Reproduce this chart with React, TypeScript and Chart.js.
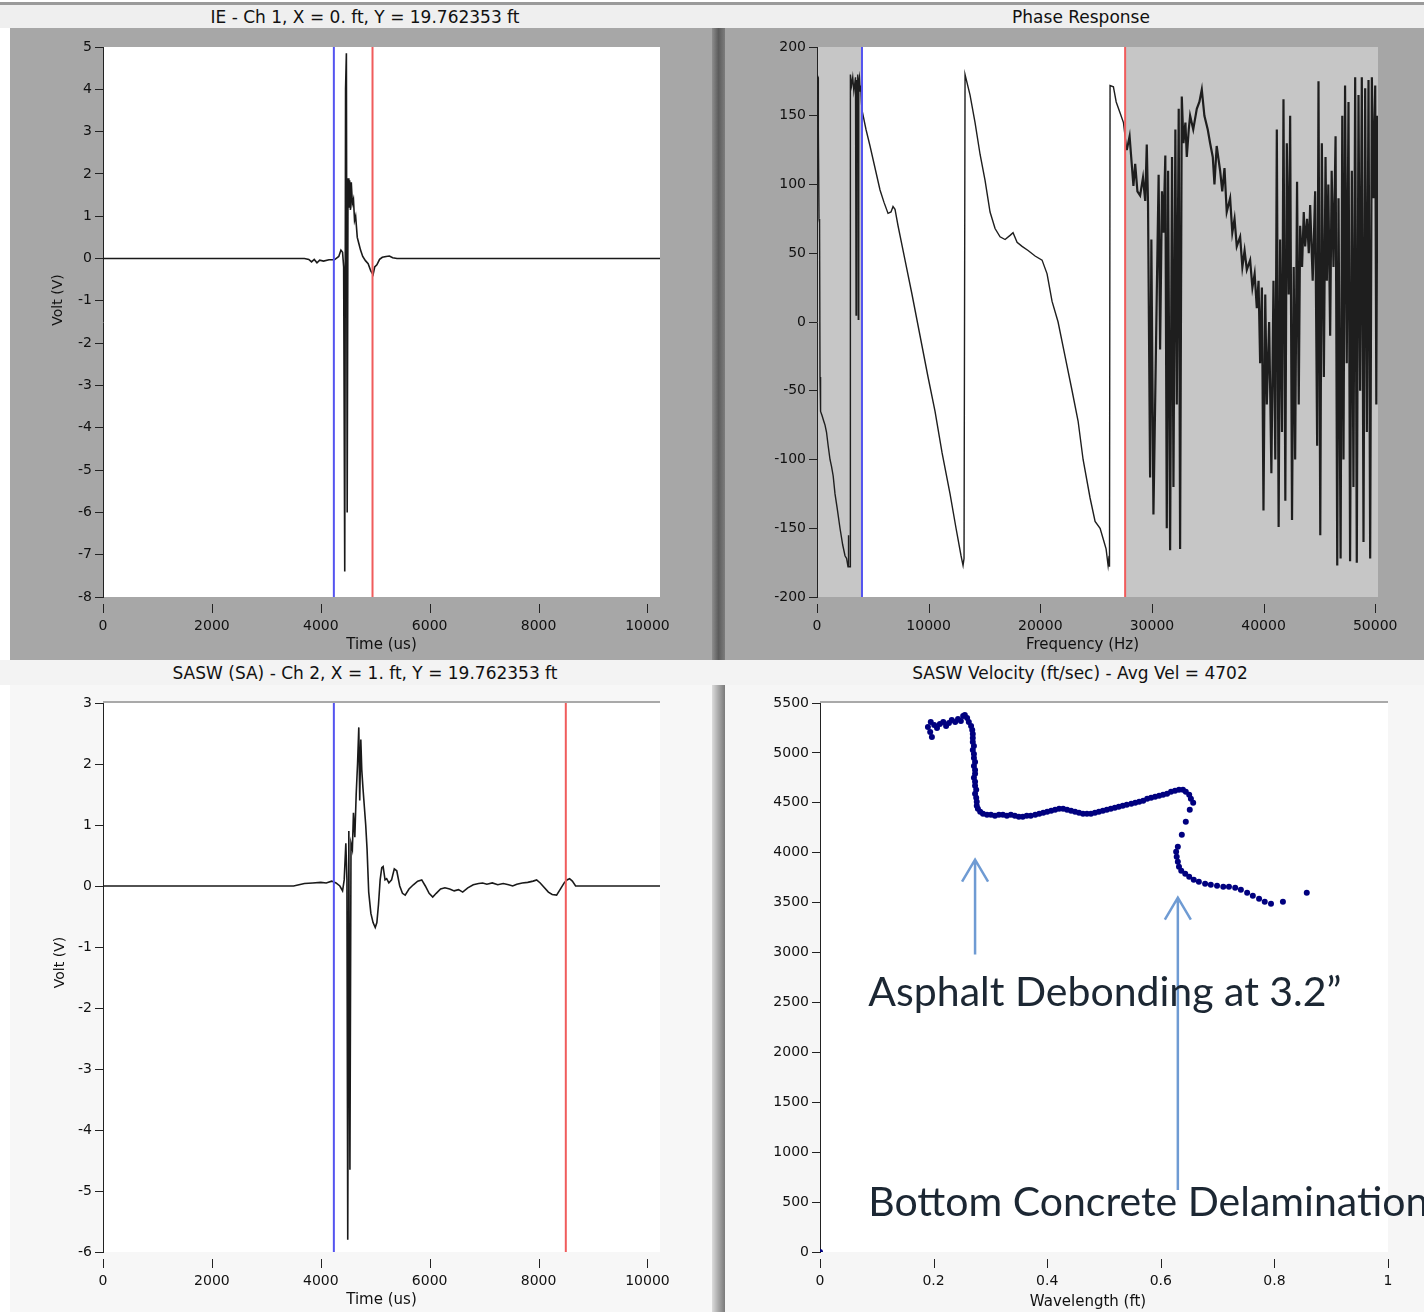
import React, { useEffect, useRef } from 'react';
import { Chart, registerables } from 'chart.js';

Chart.register(...registerables);

// ---------------- DATA ----------------
// IE - Ch 1 waveform: [time (us), volt]
const ieWave: [number, number][] = [
  [0, 0], [3700, 0], [3780, -0.02], [3830, -0.08], [3880, -0.02], [3930, -0.1], [3980, -0.04],
  [4050, -0.06], [4150, -0.03], [4250, -0.03], [4330, 0.05], [4370, 0.2], [4400, 0.15], [4420, -0.2],
  [4440, -7.4], [4455, 4.0], [4470, 4.85], [4485, -6.0], [4500, 1.9], [4515, 1.2], [4530, 1.85],
  [4545, 1.15], [4560, 1.8], [4580, 1.3], [4600, 1.4], [4620, 0.9], [4640, 1.0], [4670, 0.5],
  [4700, 0.35], [4730, 0.2], [4770, 0.05], [4820, -0.05], [4870, -0.12], [4920, -0.3], [4960, -0.38],
  [4990, -0.2], [5030, -0.15], [5080, -0.02], [5130, 0.03], [5200, 0.05], [5260, 0.06], [5320, 0.02],
  [5400, 0], [10230, 0],
];
const ieCursors = [4240, 4950];
const ieYTicks = [5, 4, 3, 2, 1, 0, -1, -2, -3, -4, -5, -6, -7, -8];
const timeTicks = [0, 2000, 4000, 6000, 8000, 10000];

// Phase response: [frequency (Hz), phase (deg)]
const phaseResponse: [number, number][] = [
  [0, 180], [90, 178], [120, 140], [180, 75], [230, 72], [270, -40], [320, -65], [450, -68], [600, -72],
  [720, -75], [850, -80], [1000, -90], [1165, -100], [1300, -105], [1450, -112], [1613, -125], [1800, -135],
  [2061, -150], [2300, -162], [2509, -170], [2650, -172], [2778, -178], [2800, -155], [2850, -178],
  [2957, -178], [2990, 180], [3100, 172], [3200, 178], [3300, 168], [3450, 178], [3500, 5], [3540, 176],
  [3600, 170], [3650, 180], [3700, 2], [3740, 175], [3800, 178], [3860, 168], [3920, 172], [3980, 160],
  [4032, 154], [4390, 140], [4749, 128], [5197, 112], [5645, 96], [6003, 87], [6362, 79], [6630, 80],
  [6810, 84], [6989, 82], [7258, 70], [7885, 45], [8512, 20], [9229, -10], [9946, -40], [10573, -65],
  [11200, -95], [11917, -125], [12454, -150], [12902, -170], [13082, -177], [13170, -172],
  [13261, 180], [13709, 165], [14157, 145], [14605, 122], [15053, 103], [15501, 80], [15949, 68],
  [16397, 62], [16845, 60], [17293, 63], [17562, 65], [17920, 58], [18368, 55], [18906, 52], [19533, 48],
  [20160, 45], [20608, 35], [21056, 15], [21594, 0], [22221, -25], [22848, -50], [23386, -72], [23834, -100],
  [24461, -128], [24909, -145], [25357, -150], [25715, -160], [25894, -165], [26074, -177], [26163, -170],
  [26200, -178], [26250, 172], [26550, 171], [26800, 160], [27149, 152], [27450, 145], [27746, 125],
  [28000, 135], [28343, 99], [28500, 115], [28700, 95], [28941, 92], [29200, 105], [29400, 88], [29538, 129],
  [29650, 86], [29837, -113], [29950, 60], [30136, -140], [30250, -80], [30434, 20], [30600, 107],
  [30733, -20], [30900, 95], [31032, 65], [31200, 121], [31331, -150], [31450, 110], [31629, -166],
  [31800, 120], [31928, -120], [32100, 140], [32227, -60], [32400, 155], [32525, -165], [32674, 164],
  [32824, 130], [33000, 145], [33123, 120], [33300, 140], [33421, 150], [33700, 140], [34019, 155],
  [34250, 160], [34467, 169], [34700, 150], [35000, 140], [35213, 130], [35450, 120], [35600, 100],
  [35800, 128], [36109, 110], [36300, 95], [36500, 112], [36700, 80], [37005, 90], [37200, 65], [37400, 75],
  [37600, 55], [37901, 62], [38100, 40], [38300, 52], [38500, 38], [38797, 45], [39000, 25], [39200, 35],
  [39395, 10], [39550, 30], [39693, -30], [39850, 25], [39992, -137], [40150, 20], [40291, -60], [40500, 0],
  [40700, -110], [40888, 30], [41050, -100], [41187, 140], [41350, -149], [41485, 60], [41650, -80],
  [41784, 162], [41950, -130], [42083, 130], [42250, 20], [42381, 150], [42550, -144], [42700, 40],
  [42829, -100], [43000, 102], [43150, -60], [43277, 70], [43450, 40], [43600, 80], [43725, 55], [43900, 75],
  [44050, 50], [44173, 85], [44400, 30], [44621, 95], [44800, -90], [44920, 175], [45080, -155],
  [45219, 130], [45400, -40], [45550, 120], [45667, 30], [45800, 100], [45965, -10], [46100, 110],
  [46264, 40], [46450, 135], [46600, -177], [46712, 90], [46900, -172], [47050, 150], [47160, -100],
  [47300, 172], [47450, -30], [47608, 160], [47750, -174], [47907, 110], [48050, -120], [48205, 178],
  [48350, -175], [48504, 165], [48650, -50], [48800, 178], [48952, -160], [49100, 170], [49251, -80],
  [49400, 176], [49549, -172], [49700, 178], [49848, 90], [50000, 172], [50100, -60], [50200, 150],
];
const phaseCursors = [4030, 27600];
const phaseYTicks = [200, 150, 100, 50, 0, -50, -100, -150, -200];
const freqTicks = [0, 10000, 20000, 30000, 40000, 50000];

// SASW (SA) - Ch 2 waveform: [time (us), volt]
const saswWave: [number, number][] = [
  [0, 0], [3500, 0], [3600, 0.02], [3700, 0.04], [3850, 0.05], [4000, 0.06], [4100, 0.05], [4200, 0.08],
  [4280, 0.05], [4350, 0], [4400, -0.08], [4430, 0.1], [4460, 0.7], [4480, 0.1], [4495, -5.8], [4515, 0.9],
  [4535, -4.65], [4555, 0.7], [4580, 0.6], [4600, 1.2], [4625, 0.8], [4650, 1.5], [4675, 2.0], [4698, 2.6],
  [4715, 1.4], [4735, 2.4], [4753, 1.9], [4775, 1.6], [4800, 1.3], [4825, 1.0], [4850, 0.6], [4880, -0.1],
  [4920, -0.45], [4960, -0.6], [5000, -0.68], [5030, -0.6], [5060, -0.3], [5090, 0.1], [5120, 0.3],
  [5145, 0.32], [5180, 0.1], [5210, 0.12], [5250, 0.05], [5300, 0.1], [5350, 0.28], [5395, 0.25],
  [5450, 0], [5500, -0.12], [5550, -0.15], [5620, -0.05], [5700, 0.02], [5780, 0.08], [5854, 0.1],
  [5920, 0], [5990, -0.12], [6056, -0.18], [6120, -0.12], [6200, -0.05], [6280, -0.03], [6367, -0.05],
  [6450, -0.08], [6530, -0.06], [6606, -0.1], [6700, -0.03], [6800, 0.02], [6900, 0.04], [6973, 0.05],
  [7050, 0.03], [7150, 0.05], [7250, 0.02], [7350, 0.04], [7450, 0.02], [7524, 0], [7600, 0.03],
  [7700, 0.05], [7800, 0.06], [7900, 0.08], [7964, 0.1], [8030, 0.05], [8100, -0.02], [8180, -0.1],
  [8250, -0.14], [8331, -0.15], [8400, -0.05], [8470, 0.05], [8520, 0.1], [8569, 0.12], [8620, 0.08],
  [8680, 0], [8753, 0], [10230, 0],
];
const saswCursors = [4240, 8500];
const saswYTicks = [3, 2, 1, 0, -1, -2, -3, -4, -5, -6];

// SASW velocity: [wavelength (ft), velocity (ft/sec)]
const velocityPoints: [number, number][] = [
  [0, 0],
  [0.190, 5260], [0.194, 5210], [0.197, 5160], [0.195, 5310], [0.201, 5280], [0.206, 5250], [0.211, 5290],
  [0.217, 5310], [0.222, 5270], [0.227, 5300], [0.232, 5330], [0.238, 5310], [0.243, 5340], [0.248, 5320],
  [0.252, 5370], [0.255, 5380], [0.259, 5350], [0.262, 5310], [0.266, 5270], [0.268, 5230], [0.269, 5190],
  [0.269, 5150], [0.269, 5110], [0.271, 5070], [0.269, 5030], [0.271, 4990], [0.271, 4950], [0.273, 4910],
  [0.271, 4870], [0.273, 4830], [0.273, 4790], [0.271, 4750], [0.273, 4710], [0.273, 4670], [0.275, 4630],
  [0.273, 4590], [0.275, 4550], [0.276, 4510], [0.276, 4470], [0.278, 4440],
  [0.282, 4410], [0.287, 4390], [0.294, 4380], [0.301, 4380], [0.308, 4370], [0.315, 4380], [0.322, 4380],
  [0.329, 4370], [0.336, 4380], [0.343, 4370], [0.350, 4360], [0.357, 4360], [0.364, 4370], [0.371, 4370],
  [0.379, 4380], [0.386, 4390], [0.393, 4400], [0.400, 4410], [0.407, 4420], [0.414, 4430], [0.421, 4440],
  [0.428, 4440], [0.435, 4430], [0.442, 4420], [0.449, 4410], [0.456, 4400], [0.463, 4390], [0.470, 4390],
  [0.477, 4390], [0.484, 4400], [0.491, 4410], [0.498, 4420], [0.505, 4430], [0.512, 4440], [0.519, 4450],
  [0.526, 4460], [0.533, 4470], [0.540, 4480], [0.548, 4490], [0.555, 4500], [0.562, 4510], [0.569, 4520],
  [0.576, 4540], [0.583, 4550], [0.590, 4560], [0.597, 4570], [0.604, 4580], [0.611, 4590], [0.618, 4610],
  [0.625, 4620], [0.632, 4630], [0.639, 4630], [0.644, 4610], [0.650, 4580], [0.653, 4540], [0.657, 4500],
  [0.651, 4430], [0.644, 4310], [0.637, 4180], [0.630, 4060], [0.627, 4010], [0.628, 3960], [0.630, 3910],
  [0.632, 3860], [0.636, 3820], [0.643, 3790], [0.650, 3760], [0.658, 3730], [0.667, 3710], [0.678, 3690],
  [0.688, 3680], [0.699, 3670], [0.710, 3660], [0.720, 3660], [0.731, 3650], [0.741, 3630], [0.752, 3600],
  [0.762, 3570], [0.773, 3540], [0.783, 3510], [0.794, 3490], [0.815, 3510], [0.857, 3600],
];
const velYTicks = [5500, 5000, 4500, 4000, 3500, 3000, 2500, 2000, 1500, 1000, 500, 0];
const wavelengthTicks = [0, 0.2, 0.4, 0.6, 0.8, 1];

// Annotations on the velocity plot (in data units)
const noteTexts = ['Asphalt Debonding at 3.2\u201D', 'Bottom Concrete Delamination'];
const notePositions: [number, number][] = [[0.085, 2465], [0.085, 361]];
const arrowPositions: [number, number, number][] = [[0.273, 2980, 3930], [0.630, 620, 3550]];

const panelTitles = [
  'IE - Ch 1, X = 0. ft, Y = 19.762353 ft',
  'Phase Response',
  'SASW (SA) - Ch 2, X = 1. ft, Y = 19.762353 ft',
  'SASW Velocity (ft/sec) - Avg Vel = 4702',
];

// ---------------- STYLE / HELPERS ----------------
const FONT = '"DejaVu Sans", Verdana, sans-serif';
const BLUE = 'rgb(84,84,240)';
const RED = 'rgb(240,92,92)';

type Decor = {
  plotBg: string;
  shade?: number[];
  frameTop?: string;
  xTitle: string;
  xTitleDx: number;
  xTitleDy: number;
  yTitle?: string;
  yTitleX?: number;
  yTitleDy?: number;
  annotate?: boolean;
};

function makeDecor(d: Decor) {
  return {
    id: 'decor',
    beforeDraw(chart: any) {
      const { ctx, chartArea: a, scales } = chart;
      ctx.save();
      ctx.fillStyle = d.plotBg;
      ctx.fillRect(a.left, a.top, a.right - a.left, a.bottom - a.top);
      if (d.shade) {
        const x1 = scales.x.getPixelForValue(d.shade[0]);
        const x2 = scales.x.getPixelForValue(d.shade[1]);
        ctx.fillStyle = '#ffffff';
        ctx.fillRect(x1, a.top, x2 - x1, a.bottom - a.top);
      }
      if (d.frameTop) {
        ctx.fillStyle = d.frameTop;
        ctx.fillRect(a.left, a.top - 2, a.right - a.left, 2);
      }
      ctx.restore();
    },
    afterDraw(chart: any) {
      const { ctx, chartArea: a, scales } = chart;
      ctx.save();
      ctx.strokeStyle = '#222';
      ctx.lineWidth = 1;
      for (const t of scales.x.ticks) {
        const px = Math.round(scales.x.getPixelForValue(t.value)) + 0.5;
        ctx.beginPath();
        ctx.moveTo(px, a.bottom + 7);
        ctx.lineTo(px, a.bottom + 16);
        ctx.stroke();
      }
      ctx.fillStyle = '#111';
      ctx.font = `15px ${FONT}`;
      ctx.textAlign = 'center';
      ctx.textBaseline = 'middle';
      ctx.fillText(d.xTitle, (a.left + a.right) / 2 + d.xTitleDx, a.bottom + d.xTitleDy);
      if (d.yTitle) {
        ctx.save();
        ctx.font = `14px ${FONT}`;
        ctx.translate(d.yTitleX ?? 0, (a.top + a.bottom) / 2 + (d.yTitleDy ?? 0));
        ctx.rotate(-Math.PI / 2);
        ctx.fillText(d.yTitle, 0, 0);
        ctx.restore();
      }
      if (d.annotate) {
        const sx = scales.x;
        const sy = scales.y;
        ctx.strokeStyle = '#6f9bd3';
        ctx.lineWidth = 2.5;
        for (const [wl, v0, v1] of arrowPositions) {
          const x = sx.getPixelForValue(wl);
          const y0 = sy.getPixelForValue(v0);
          const y1 = sy.getPixelForValue(v1);
          ctx.beginPath();
          ctx.moveTo(x, y0);
          ctx.lineTo(x, y1);
          ctx.moveTo(x - 13, y1 + 22);
          ctx.lineTo(x, y1);
          ctx.lineTo(x + 13, y1 + 22);
          ctx.stroke();
        }
        ctx.fillStyle = '#1c2733';
        ctx.font = `41px Lato, "Open Sans", sans-serif`;
        ctx.textAlign = 'left';
        ctx.textBaseline = 'alphabetic';
        noteTexts.forEach((txt, i) => {
          const [wl, v] = notePositions[i];
          ctx.fillText(txt, sx.getPixelForValue(wl), sy.getPixelForValue(v));
        });
      }
      ctx.restore();
    },
  };
}

type BuildOpts = {
  datasets: any[];
  xMin: number; xMax: number; yMin: number; yMax: number;
  xTicks: number[]; yTicks: number[];
  padTop: number; padRight: number; yWidth: number; xHeight: number;
  decor: Decor;
};

function buildConfig(o: BuildOpts): any {
  const tickFont = { family: FONT, size: 14 };
  return {
    type: 'scatter',
    data: { datasets: o.datasets },
    options: {
      animation: false,
      responsive: false,
      devicePixelRatio: 1,
      events: [],
      layout: { padding: { top: o.padTop, right: o.padRight, left: 0, bottom: 0 } },
      plugins: { legend: { display: false }, tooltip: { enabled: false }, title: { display: false } },
      scales: {
        x: {
          type: 'linear',
          min: o.xMin,
          max: o.xMax,
          afterBuildTicks: (s: any) => { s.ticks = [...o.xTicks].sort((a, b) => a - b).map((v) => ({ value: v })); },
          afterFit: (s: any) => { s.height = o.xHeight; },
          border: { display: false },
          grid: { display: false, drawTicks: false, tickLength: 0 },
          ticks: { color: '#111', font: tickFont, padding: 21, maxRotation: 0, autoSkip: false, callback: (v: number) => String(v) },
        },
        y: {
          type: 'linear',
          min: o.yMin,
          max: o.yMax,
          afterBuildTicks: (s: any) => { s.ticks = [...o.yTicks].sort((a, b) => a - b).map((v) => ({ value: v })); },
          afterFit: (s: any) => { s.width = o.yWidth; },
          border: { display: true, color: '#222', width: 1 },
          grid: { display: true, drawOnChartArea: false, drawTicks: true, tickLength: 8, tickColor: '#222', color: '#222' },
          ticks: { color: '#111', font: tickFont, padding: 3, autoSkip: false, callback: (v: number) => String(v) },
        },
      },
    },
    plugins: [makeDecor(o.decor)],
  };
}

const lineDs = (pts: [number, number][], color = '#1a1a1a', width = 1.6, noisyFrom?: number) => ({
  data: pts.map(([x, y]) => ({ x, y })),
  showLine: true,
  borderColor: color,
  borderWidth: width,
  pointRadius: 0,
  tension: 0,
  order: 2,
  segment: noisyFrom === undefined ? undefined : {
    borderWidth: (c: any) => (c.p0.parsed.x >= noisyFrom ? 2.2 : width),
  },
});

const cursorDs = (x: number, y0: number, y1: number, color: string) => ({
  data: [{ x, y: y0 }, { x, y: y1 }],
  showLine: true,
  borderColor: color,
  borderWidth: 2,
  pointRadius: 0,
  order: 1,
});

type Box = { left: number; top: number; width: number; height: number };

function ChartPanel({ box, build }: { box: Box; build: () => any }) {
  const ref = useRef<HTMLCanvasElement>(null);
  useEffect(() => {
    const chart = new Chart(ref.current as HTMLCanvasElement, build());
    return () => chart.destroy();
  }, []);
  return (
    <canvas
      ref={ref}
      width={box.width}
      height={box.height}
      style={{ position: 'absolute', left: box.left, top: box.top, width: box.width, height: box.height }}
    />
  );
}

const abs = (left: number, top: number, width: number, height: number, background: string): React.CSSProperties => ({
  position: 'absolute', left, top, width, height, background,
});

function Title({ text, cx, cy }: { text: string; cx: number; cy: number }) {
  return (
    <div style={{
      position: 'absolute', left: cx - 400, top: cy - 11, width: 800, height: 22, lineHeight: '22px',
      textAlign: 'center', fontFamily: FONT, fontSize: 17, color: '#111', whiteSpace: 'nowrap',
    }}>{text}</div>
  );
}

export default function App() {
  const tl: Box = { left: 10, top: 28, width: 702, height: 632 };
  const tr: Box = { left: 725, top: 28, width: 699, height: 632 };
  const bl: Box = { left: 10, top: 685, width: 702, height: 627 };
  const br: Box = { left: 725, top: 685, width: 699, height: 627 };

  const buildIE = () => buildConfig({
    datasets: [
      cursorDs(ieCursors[0], -8, 5, BLUE),
      cursorDs(ieCursors[1], -8, 5, RED),
      lineDs(ieWave),
    ],
    xMin: 0, xMax: 10230, yMin: -8, yMax: 5,
    xTicks: timeTicks, yTicks: ieYTicks,
    padTop: 19, padRight: 52, yWidth: 93, xHeight: 63,
    decor: { plotBg: '#ffffff', xTitle: 'Time (us)', xTitleDx: 0, xTitleDy: 48, yTitle: 'Volt (V)', yTitleX: 48, yTitleDy: -22 },
  });

  const buildPhase = () => buildConfig({
    datasets: [
      cursorDs(phaseCursors[0], -200, 200, BLUE),
      cursorDs(phaseCursors[1], -200, 200, RED),
      lineDs(phaseResponse, '#1e1e1e', 1.4, 27700),
    ],
    xMin: 0, xMax: 50250, yMin: -200, yMax: 200,
    xTicks: freqTicks, yTicks: phaseYTicks,
    padTop: 19, padRight: 46, yWidth: 92, xHeight: 63,
    decor: { plotBg: '#c6c6c6', shade: phaseCursors, xTitle: 'Frequency (Hz)', xTitleDx: -15, xTitleDy: 48 },
  });

  const buildSASW = () => buildConfig({
    datasets: [
      cursorDs(saswCursors[0], -6, 3, BLUE),
      cursorDs(saswCursors[1], -6, 3, RED),
      lineDs(saswWave),
    ],
    xMin: 0, xMax: 10230, yMin: -6, yMax: 3,
    xTicks: timeTicks, yTicks: saswYTicks,
    padTop: 18, padRight: 52, yWidth: 93, xHeight: 60,
    decor: { plotBg: '#ffffff', frameTop: '#a9a9a9', xTitle: 'Time (us)', xTitleDx: 0, xTitleDy: 48, yTitle: 'Volt (V)', yTitleX: 50, yTitleDy: -15 },
  });

  const buildVel = () => buildConfig({
    datasets: [
      {
        data: velocityPoints.map(([x, y]) => ({ x, y })),
        showLine: false,
        pointRadius: 3,
        pointBorderWidth: 0,
        pointBackgroundColor: '#00007f',
        backgroundColor: '#00007f',
        borderColor: '#00007f',
      },
    ],
    xMin: 0, xMax: 1, yMin: 0, yMax: 5500,
    xTicks: wavelengthTicks, yTicks: velYTicks,
    padTop: 18, padRight: 36, yWidth: 95, xHeight: 60,
    decor: { plotBg: '#ffffff', frameTop: '#a9a9a9', xTitle: 'Wavelength (ft)', xTitleDx: -16, xTitleDy: 50, annotate: true },
  });

  return (
    <div style={{ position: 'absolute', left: 0, top: 0, width: 1424, height: 1312, overflow: 'hidden', background: '#ffffff' }}>
      <div style={abs(0, 2, 1424, 3, '#9a9a9a')} />
      <div style={abs(0, 5, 1424, 23, '#efefef')} />
      <div style={abs(10, 28, 702, 632, '#a7a7a7')} />
      <div style={abs(712, 28, 13, 632, 'linear-gradient(to right, #8e8e8e, #5c5c5c 50%, #7c7c7c)')} />
      <div style={abs(725, 28, 699, 632, '#a6a6a6')} />
      <div style={abs(0, 660, 1424, 25, '#f3f3f3')} />
      <div style={abs(10, 685, 702, 627, '#f7f7f7')} />
      <div style={abs(712, 685, 13, 627, 'linear-gradient(to right, #dcdcdc, #a8a8a8 50%, #7a7a7a)')} />
      <div style={abs(725, 685, 699, 627, '#f6f6f6')} />
      <Title text={panelTitles[0]} cx={365} cy={17} />
      <Title text={panelTitles[1]} cx={1081} cy={17} />
      <Title text={panelTitles[2]} cx={365} cy={673} />
      <Title text={panelTitles[3]} cx={1080} cy={673} />
      <ChartPanel box={tl} build={buildIE} />
      <ChartPanel box={tr} build={buildPhase} />
      <ChartPanel box={bl} build={buildSASW} />
      <ChartPanel box={br} build={buildVel} />
    </div>
  );
}
